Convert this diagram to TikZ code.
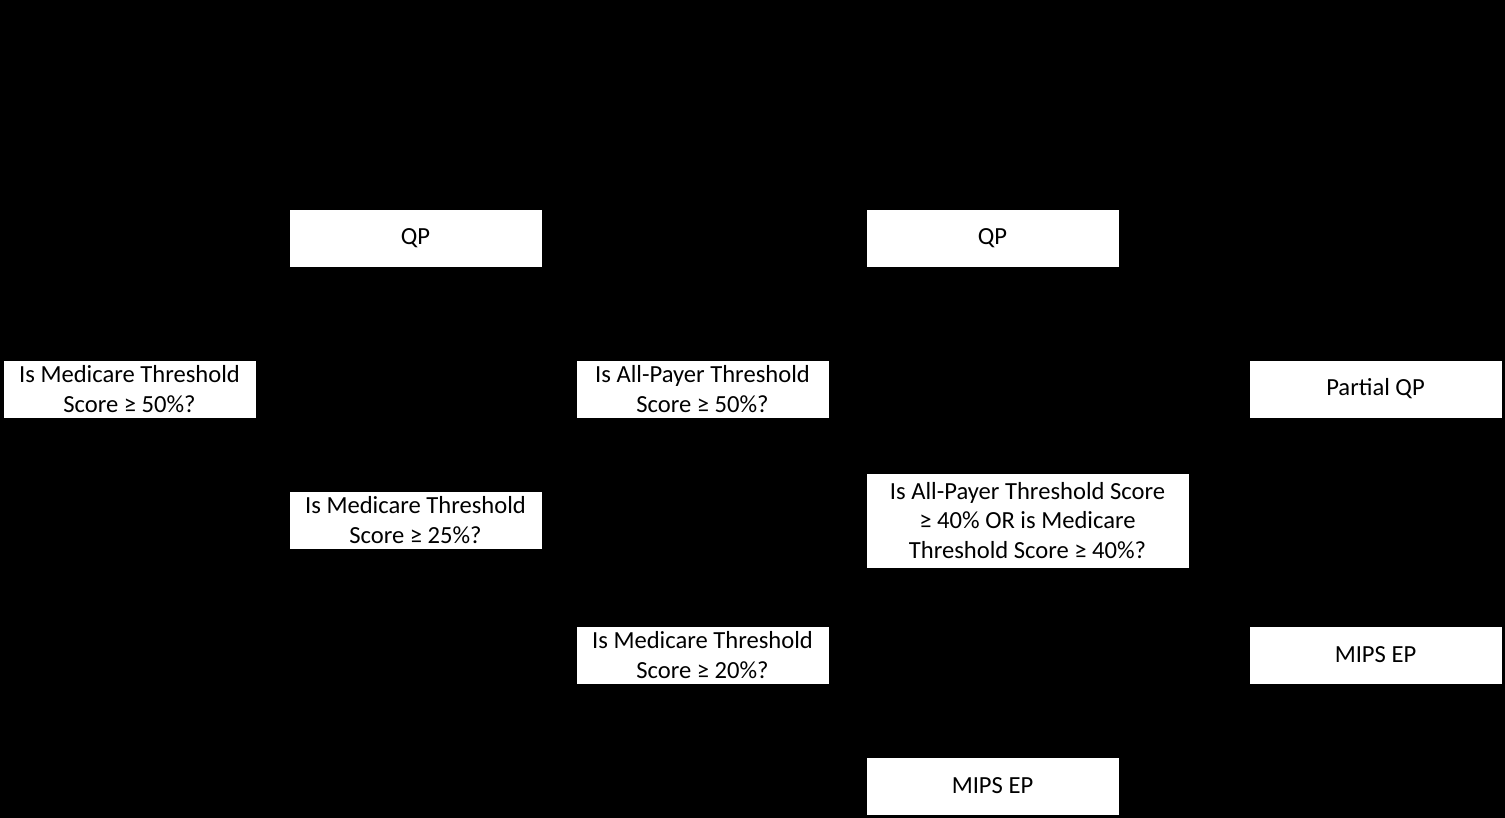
\documentclass[tikz,border=0pt]{standalone}
\usepackage{fontspec}
\setmainfont{Carlito}
\usepackage{tikz}
\usetikzlibrary{positioning}

\begin{document}
\begin{tikzpicture}[x=0.02cm, y=-0.02cm,
    box/.style={fill=white, draw=white, rectangle, minimum width=5.02cm, minimum height=1.12cm, inner sep=0pt, align=center, font=\fontsize{14}{17}\selectfont}]
    % Background
    \fill[black] (0,0) rectangle (1505,818);
    \useasboundingbox (0,0) rectangle (1505,818);
    % Nodes
    \node[box] (medfifty) at (129.5,389) {Is Medicare Threshold\\Score ≥ 50\%?};
    \node[box] (qpleft) at (415.5,238) {QP};
    \node[box] (medtwentyfive) at (415.5,520) {Is Medicare Threshold\\Score ≥ 25\%?};
    \node[box] (allfifty) at (702.5,389) {Is All-Payer Threshold\\Score ≥ 50\%?};
    \node[box] (medtwenty) at (702.5,655) {Is Medicare Threshold\\Score ≥ 20\%?};
    \node[box] (qpright) at (992.5,238) {QP};
    \node[box, minimum width=6.42cm, minimum height=1.86cm] (forty) at (1027.5,520.5) {Is All-Payer Threshold Score\\≥ 40\% OR is Medicare\\Threshold Score ≥ 40\%?};
    \node[box] (mipsbottom) at (992.5,786) {MIPS EP};
    \node[box] (partial) at (1375.5,389) {Partial QP};
    \node[box] (mipsright) at (1375.5,655) {MIPS EP};
\end{tikzpicture}
\end{document}
